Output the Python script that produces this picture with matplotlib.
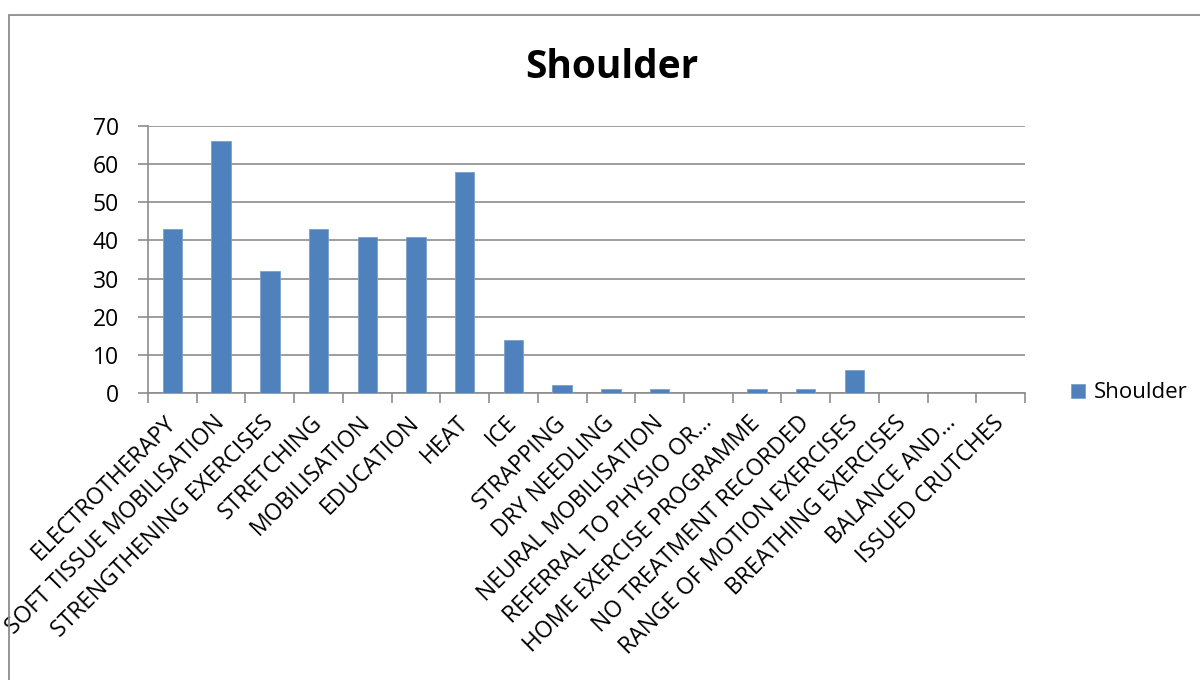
import matplotlib.pyplot as plt
from matplotlib.patches import Rectangle
import numpy as np

categories = ['ELECTROTHERAPY', 'SOFT TISSUE MOBILISATION', 'STRENGTHENING EXERCISES',
              'STRETCHING', 'MOBILISATION', 'EDUCATION', 'HEAT', 'ICE', 'STRAPPING',
              'DRY NEEDLING', 'NEURAL MOBILISATION', 'REFERRAL TO PHYSIO OR...',
              'HOME EXERCISE PROGRAMME', 'NO TREATMENT RECORDED',
              'RANGE OF MOTION EXERCISES', 'BREATHING EXERCISES', 'BALANCE AND...',
              'ISSUED CRUTCHES']
shoulder = [43, 66, 32, 43, 41, 41, 58, 14, 2, 1, 1, 0, 1, 1, 6, 0, 0, 0]
yticks = [0, 10, 20, 30, 40, 50, 60, 70]

plt.rcParams['font.family'] = ['Open Sans', 'DejaVu Sans']

fig = plt.figure(figsize=(12, 6.8), dpi=100)
# chart border (Excel style)
fig.patches.append(Rectangle((9 / 1200, -0.01), 1.02, 1 - 15 / 680 + 0.01,
                             transform=fig.transFigure, fill=False,
                             edgecolor='#8c8c8c', linewidth=1.3, zorder=10))

ax = fig.add_axes([148 / 1200, 1 - 393 / 680, (1025 - 148) / 1200, (393 - 126) / 680])
x = np.arange(len(categories))
ax.bar(x, shoulder, width=0.4, color='#4f81bd', edgecolor='#7ba0cd',
       linewidth=0.6, zorder=3, label='Shoulder')

ax.set_xlim(-0.5, len(categories) - 0.5)
ax.set_ylim(0, 70)
ax.set_yticks(yticks)
ax.set_yticklabels([str(v) for v in yticks], fontsize=16.5)
ax.yaxis.grid(True, color='#8c8c8c', linewidth=1.2, zorder=0)

ax.set_xticks(np.arange(len(categories) + 1) - 0.5)
ax.set_xticklabels([])
ax.set_xticks(x, minor=True)
ax.set_xticklabels(categories, minor=True, rotation=45, ha='right', va='center',
                   rotation_mode='anchor', fontsize=16.5)
ax.tick_params(axis='x', which='minor', length=0, pad=19)
ax.tick_params(axis='x', which='major', length=7, width=1.2, color='#8c8c8c',
               direction='out')
ax.tick_params(axis='y', length=7, width=1.2, color='#8c8c8c', pad=14)

for s in ['top', 'right']:
    ax.spines[s].set_visible(False)
for s in ['left', 'bottom']:
    ax.spines[s].set_color('#8c8c8c')
    ax.spines[s].set_linewidth(1.2)

fig.text(612 / 1200, 1 - 67 / 680, 'Shoulder', ha='center', va='center',
         fontsize=28, fontweight='bold')

ax.legend(loc='center left', bbox_to_anchor=(1.04, 0.0), frameon=False,
          fontsize=16, handlelength=0.6, handleheight=0.6, handletextpad=0.4,
          borderpad=0)

fig.savefig('out.png', dpi=100)
